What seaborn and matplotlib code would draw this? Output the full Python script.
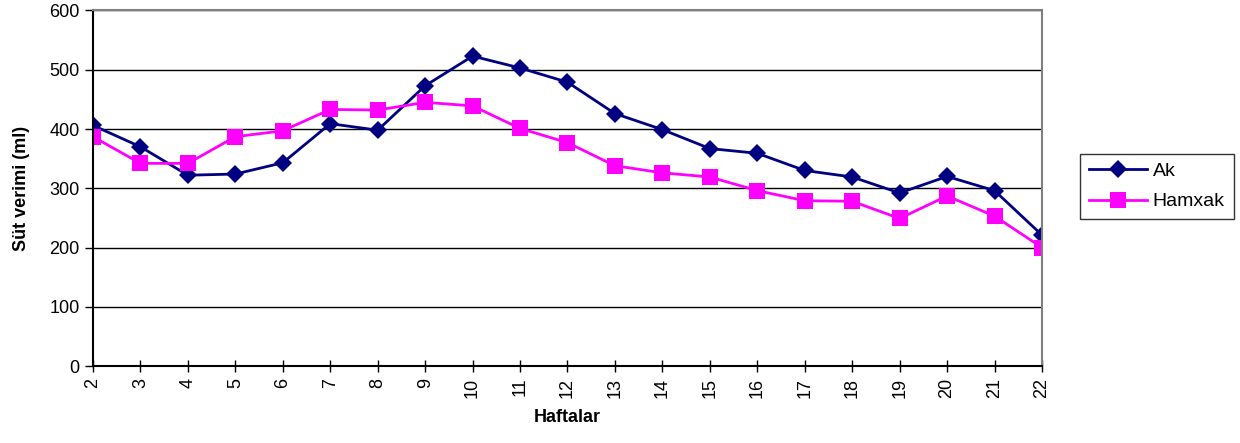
import pandas as pd
from matplotlib import pyplot as plt
import seaborn as sns

weeks = list(range(2, 23))
ak = [406, 370, 322, 324, 343, 409, 398, 473, 523, 503, 479,
      426, 399, 367, 359, 330, 319, 292, 320, 296, 221]
hamxak = [387, 342, 342, 387, 397, 433, 432, 445, 439, 401, 377,
          338, 326, 319, 296, 279, 278, 249, 287, 253, 200]
series_names = ['Ak', 'Hamxak']
colors = {'Ak': '#000080', 'Hamxak': '#FF00FF'}
markers = {'Ak': 'D', 'Hamxak': 's'}


if __name__ == '__main__':
    plt.rcParams['font.family'] = ['Liberation Sans', 'DejaVu Sans']

    data = pd.DataFrame({
        'week': weeks * 2,
        'value': ak + hamxak,
        'group': [series_names[0]] * len(weeks) + [series_names[1]] * len(weeks),
    })

    fig = plt.figure(figsize=(12.4, 4.43), dpi=100)
    ax = fig.add_axes([0.075, 0.1738, 0.7653, 0.8025])

    sns.lineplot(data=data, x='week', y='value', hue='group', style='group',
                 palette=colors, markers=markers, dashes=False, ax=ax,
                 linewidth=2, markeredgewidth=0)
    for line in ax.lines:
        if line.get_marker() == 's':
            line.set_markersize(11)
        else:
            line.set_markersize(9)

    ax.set_xlim(2, 22)
    ax.set_ylim(0, 600)
    ax.set_xticks(weeks)
    ax.set_xticklabels([str(w) for w in weeks], rotation=90, fontsize=13)
    ax.set_yticks(range(0, 601, 100))
    ax.tick_params(axis='y', labelsize=13, direction='out', length=6, width=1)
    ax.tick_params(axis='x', direction='inout', length=9, width=1, pad=4)
    ax.grid(axis='y', color='black', linewidth=1)
    ax.set_axisbelow(True)

    for side in ['top', 'right']:
        ax.spines[side].set_color('#808080')
        ax.spines[side].set_linewidth(1.5)
    for side in ['left', 'bottom']:
        ax.spines[side].set_color('black')
        ax.spines[side].set_linewidth(1.5)

    ax.set_xlabel('Haftalar', fontsize=13, fontweight='bold', labelpad=8)
    ax.set_ylabel('Süt verimi (ml)', fontsize=13, fontweight='bold', labelpad=14)

    handles, labels = ax.get_legend_handles_labels()
    leg = ax.legend(handles, labels, loc='center left', bbox_to_anchor=(1.04, 0.505),
                    fontsize=14, frameon=True, fancybox=False, edgecolor='black',
                    handlelength=3, handletextpad=0.3, borderpad=0.45,
                    labelspacing=0.65, borderaxespad=0)
    leg.get_frame().set_linewidth(1)

    plt.savefig('out.png', dpi=100)
